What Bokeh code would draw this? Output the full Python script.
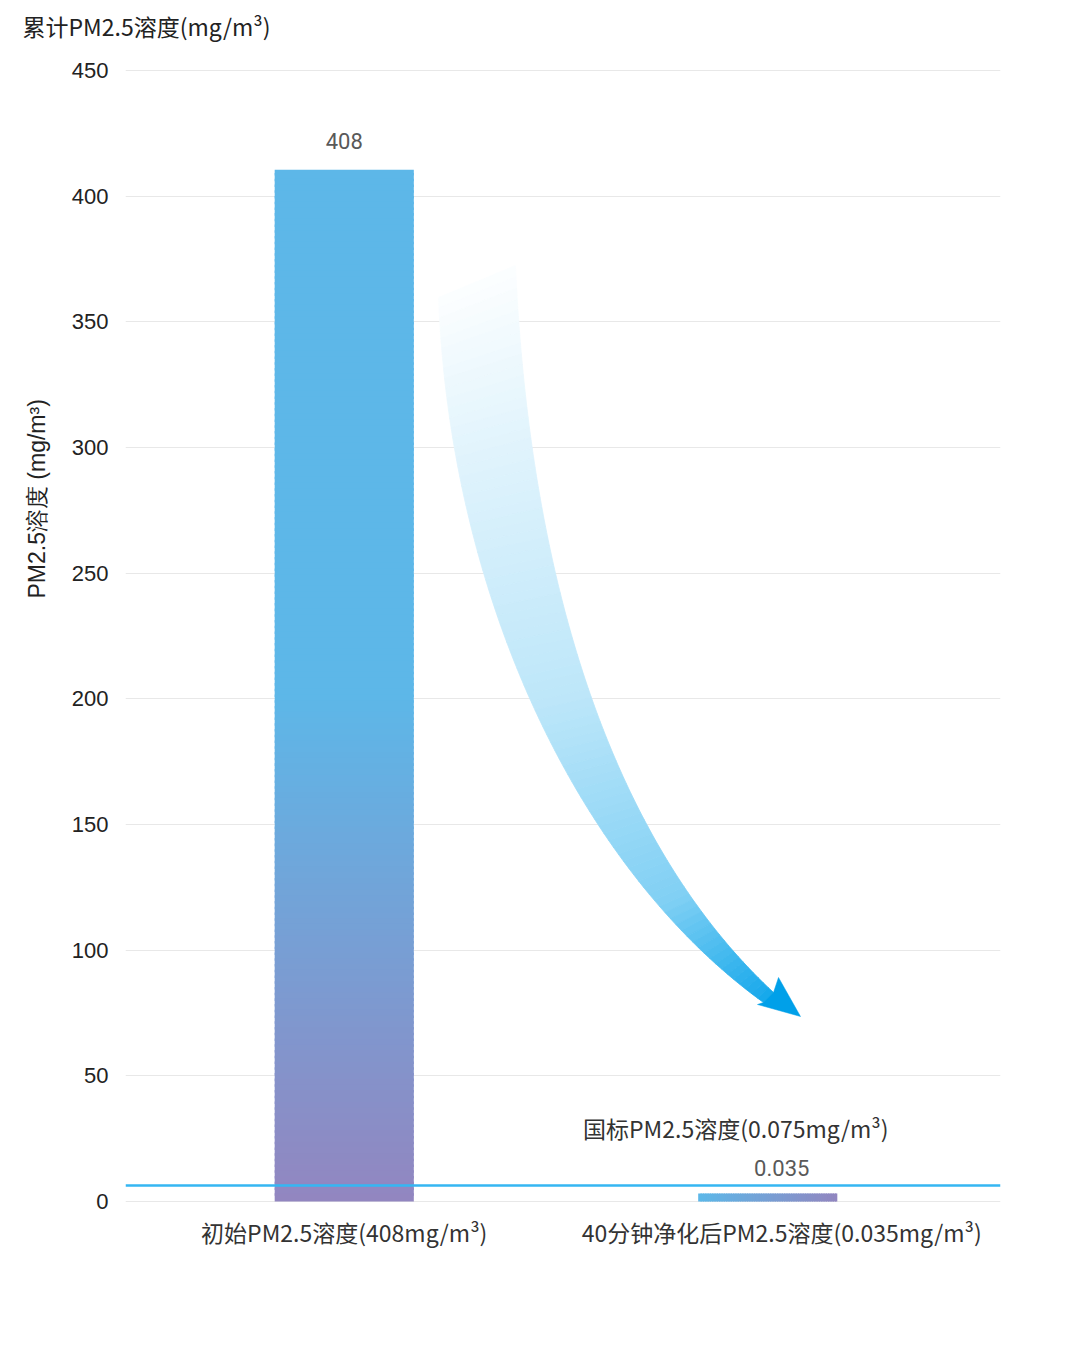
import numpy as np
from bokeh.plotting import figure
from bokeh.models import Range1d, FixedTicker, Title, ColumnDataSource, Span
from bokeh.core.properties import value
from bokeh.embed import file_html
from bokeh.resources import INLINE

# ---------------- data ----------------
categories = ["初始PM2.5溶度(408mg/m³)", "40分钟净化后PM2.5溶度(0.035mg/m³)"]
value_labels = ["408", "0.035"]
bar_heights = [410.5, 3.2]          # bar heights as drawn in the picture
standard_label = "国标PM2.5溶度(0.075mg/m³)"
standard_level = 6.4                # national-standard line as drawn
y_ticks = [0, 50, 100, 150, 200, 250, 300, 350, 400, 450]
title_text = "累计PM2.5溶度(mg/m³)"
y_label_text = "PM2.5溶度 (mg/m³)"

# ---------------- figure ----------------
W, H = 1080, 1351
p = figure(width=W, height=H, x_range=Range1d(0, 2), y_range=Range1d(-0.4, 450.4),
           output_backend="svg", toolbar_location=None, title=None,
           min_border_left=125, min_border_right=80,
           min_border_top=69, min_border_bottom=149)
p.outline_line_color = None
p.background_fill_color = "white"
p.border_fill_color = "white"

p.xgrid.visible = False
p.ygrid.ticker = FixedTicker(ticks=y_ticks)
p.ygrid.grid_line_color = "#e8e8e8"
p.ygrid.grid_line_width = 1

centers = [0.5, 1.5]
p.xaxis.ticker = FixedTicker(ticks=centers)
p.xaxis.major_label_overrides = {c: lab for c, lab in zip(centers, categories)}
p.xaxis.axis_line_color = None
p.xaxis.major_tick_line_color = None
p.xaxis.minor_tick_line_color = None
p.xaxis.major_tick_out = 0
p.xaxis.major_label_standoff = 12
p.xaxis.major_label_text_font = "Noto Sans CJK SC"
p.xaxis.major_label_text_font_size = "23px"
p.xaxis.major_label_text_color = "#333333"

p.yaxis.ticker = FixedTicker(ticks=y_ticks)
p.yaxis.axis_line_color = None
p.yaxis.major_tick_line_color = None
p.yaxis.minor_tick_line_color = None
p.yaxis.major_tick_out = 0
p.yaxis.major_label_standoff = 17
p.yaxis.major_label_text_font = "Liberation Sans"
p.yaxis.major_label_text_font_size = "22px"
p.yaxis.major_label_text_color = "#222222"

# chart title (top-left): an empty spacer panel lifts it above the frame
spacer = Title(text=" ", text_font_size="1px", standoff=24)
p.add_layout(spacer, "above")
main_title = Title(text=title_text, align="left", vertical_align="bottom",
                   offset=-103, standoff=0,
                   text_font="Noto Sans CJK SC", text_font_size="23px",
                   text_font_style="normal", text_color="#222222")
p.add_layout(main_title, "above")

ylab = Title(text=y_label_text, align="left", offset=604, standoff=38,
             text_font="Liberation Sans", text_font_size="23px",
             text_font_style="normal", text_color="#222222")
p.add_layout(ylab, "left")

# ---------------- gradient colours ----------------
top_rgb = np.array([93, 183, 232])
bot_rgb = np.array([146, 134, 192])

def hexcol(c):
    c = np.clip(np.round(c), 0, 255).astype(int)
    return "#%02x%02x%02x" % tuple(c)

bar_w = 0.318

# bar 1: vertical gradient (uniform blue above 200, to purple at 0)
edges = np.linspace(0, bar_heights[0], 181)
mids = (edges[:-1] + edges[1:]) / 2
tops = np.minimum(edges[1:] + 1.0, bar_heights[0])   # small overlap hides seams
cols = [hexcol(bot_rgb + (top_rgb - bot_rgb) * min(1.0, m / 200.0)) for m in mids]
order = np.arange(len(mids))[::-1]
src1 = ColumnDataSource(dict(left=[centers[0] - bar_w / 2] * len(mids),
                             right=[centers[0] + bar_w / 2] * len(mids),
                             bottom=edges[:-1][order], top=tops[order],
                             color=[cols[i] for i in order]))
p.quad(left="left", right="right", bottom="bottom", top="top", source=src1,
       fill_color="color", line_color=None)

# bar 2: horizontal gradient, drawn slightly left of its category
b2c = centers[1] - 0.032
xe = np.linspace(b2c - bar_w / 2, b2c + bar_w / 2, 61)
rights = np.minimum(xe[1:] + 0.003, xe[-1])
t2 = np.linspace(0, 1, 60)
cols2 = [hexcol(top_rgb + (bot_rgb - top_rgb) * t) for t in t2]
src2 = ColumnDataSource(dict(left=xe[:-1][::-1], right=rights[::-1],
                             bottom=[0] * 60, top=[bar_heights[1]] * 60, color=cols2[::-1]))
p.quad(left="left", right="right", bottom="bottom", top="top", source=src2,
       fill_color="color", line_color=None)

# ---------------- decorative curved arrow ----------------
def to_data(px, py):
    return (np.asarray(px) - 125) / 437.5, (1201 - np.asarray(py)) / 1131 * 450

def bez(p0, p1, p2, p3, t):
    t = t[:, None]
    return ((1 - t) ** 3 * np.array(p0) + 3 * (1 - t) ** 2 * t * np.array(p1)
            + 3 * (1 - t) * t ** 2 * np.array(p2) + t ** 3 * np.array(p3))

tt = np.linspace(0, 1, 90)
Lp = bez((438, 297), (450, 600), (580, 870), (763, 1002), tt)
Rp = bez((515, 265), (530, 600), (620, 850), (773, 992), tt)
xs, ys, alph = [], [], []
for i in range(len(tt) - 1):
    qx = [Lp[i, 0], Lp[i + 1, 0], Rp[i + 1, 0], Rp[i, 0]]
    qy = [Lp[i, 1], Lp[i + 1, 1], Rp[i + 1, 1], Rp[i, 1]]
    dx, dy = to_data(qx, qy)
    xs.append(list(dx)); ys.append(list(dy))
    ym = np.mean(qy)
    alph.append(float(np.interp(ym, [265, 325, 450, 700, 900, 990, 1010],
                                [0.0, 0.04, 0.12, 0.26, 0.5, 0.88, 1.0])))
cols_a = [hexcol(np.array([255, 255, 255]) * (1 - a) + np.array([0, 160, 233]) * a) for a in alph]
srcA = ColumnDataSource(dict(xs=xs, ys=ys, color=cols_a))
p.patches("xs", "ys", source=srcA, fill_color="color", line_color="color", line_width=0.8)

hx, hy = to_data([773, 778, 800, 757, 763], [992, 977, 1016, 1004, 1002])
p.patch(list(hx), list(hy), fill_color="#00a0e9", line_color="#00a0e9", line_width=0.5)

# ---------------- national standard line ----------------
p.add_layout(Span(location=standard_level, dimension="width",
                  line_color="#35b6f2", line_width=2.5))

# ---------------- labels ----------------
p.text(x=centers, y=bar_heights, text=value_labels, text_align="center",
       text_baseline="middle", y_offset=[-29, -25],
       text_font=value("Roboto"), text_font_size="22px", text_color="#595959")
p.text(x=[centers[1]], y=[standard_level], text=[standard_label], text_align="center",
       text_baseline="middle", x_offset=-46, y_offset=-57,
       text_font=value("Noto Sans CJK SC"), text_font_size="23px", text_color="#333333")

open("out.html", "w").write(file_html(p, INLINE))
